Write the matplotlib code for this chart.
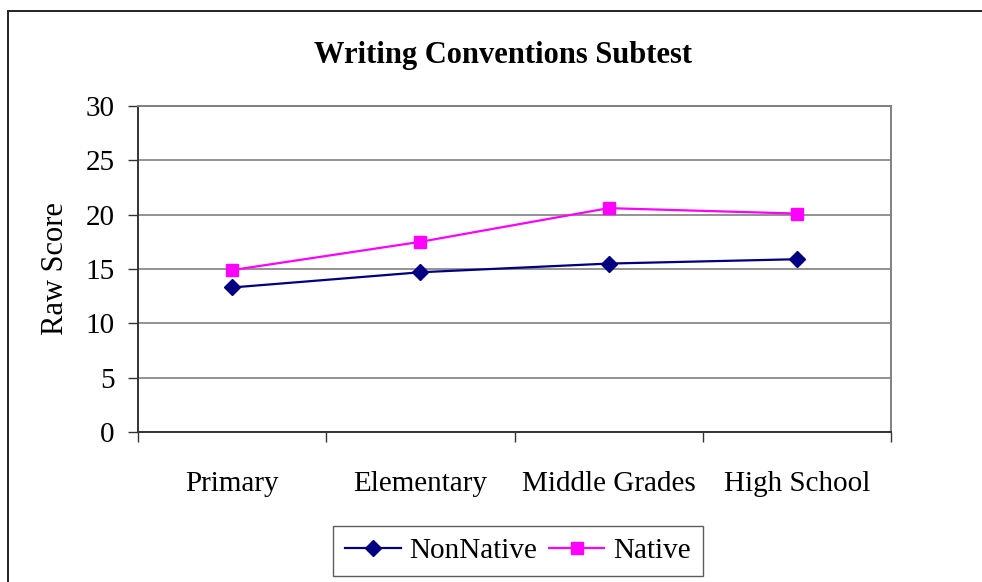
import matplotlib
matplotlib.use("Agg")
import matplotlib.pyplot as plt
from matplotlib.patches import Rectangle
from matplotlib.ticker import FixedLocator, NullFormatter, FixedFormatter

categories = ["Primary", "Elementary", "Middle Grades", "High School"]
nonnative = [13.3, 14.7, 15.5, 15.9]
native = [14.9, 17.5, 20.6, 20.1]
yticks = [0, 5, 10, 15, 20, 25, 30]

plt.rcParams["font.family"] = ["Liberation Serif", "DejaVu Serif"]

W, H = 982, 582
fig = plt.figure(figsize=(W / 100, H / 100), dpi=100)

# chart area frame (runs past the right and bottom edges)
fig.patches.append(Rectangle((8 / W, -0.05), 1.1, 1.05 - 11 / H, transform=fig.transFigure,
                             fill=False, edgecolor="#222222", linewidth=1.4))

ax = fig.add_axes([138 / W, 1 - 432 / H, (891 - 138) / W, (432 - 106) / H])

x = list(range(1, len(categories) + 1))
ax.plot(x, nonnative, color="#000080", marker="D", markersize=8, linewidth=1.6,
        label="NonNative", zorder=3)
ax.plot(x, native, color="#FF00FF", marker="s", markersize=8, linewidth=1.6,
        label="Native", zorder=3)

ax.set_xlim(0.5, len(categories) + 0.5)
ax.set_ylim(0, 30)
ax.set_yticks(yticks)
ax.yaxis.grid(True, color="#808080", linewidth=1.2)
ax.set_axisbelow(True)

ax.xaxis.set_major_locator(FixedLocator([i + 0.5 for i in range(0, len(categories) + 1)]))
ax.xaxis.set_major_formatter(NullFormatter())
ax.xaxis.set_minor_locator(FixedLocator(x))
ax.xaxis.set_minor_formatter(FixedFormatter(categories))
ax.tick_params(axis="x", which="major", direction="out", length=7, width=1, color="#333333")
ax.tick_params(axis="x", which="minor", length=0, pad=28, labelsize=21)
ax.tick_params(axis="y", direction="out", length=7, width=1, color="#333333",
               labelsize=21, pad=10)

for side in ("top", "right"):
    ax.spines[side].set_color("#808080")
    ax.spines[side].set_linewidth(1.4)
for side in ("left", "bottom"):
    ax.spines[side].set_color("#333333")
    ax.spines[side].set_linewidth(1.4)

ax.set_ylabel("Raw Score", fontsize=22, labelpad=11)

fig.text(503 / W, 1 - 55 / H, "Writing Conventions Subtest", ha="center", va="center",
         fontsize=22, fontweight="bold")

leg = fig.legend(loc="center", bbox_to_anchor=(518 / W, 1 - 551 / H), ncol=2,
                 fontsize=21, frameon=True, fancybox=False, edgecolor="#333333",
                 handlelength=1.9, handletextpad=0.3, columnspacing=0.4,
                 borderpad=0.42, borderaxespad=0)
leg.get_frame().set_linewidth(1.0)

fig.savefig("out.png", dpi=100)
